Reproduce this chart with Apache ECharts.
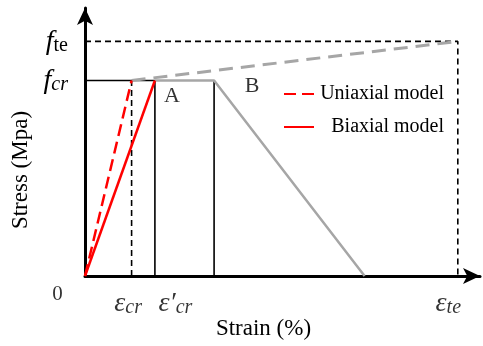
<!DOCTYPE html>
<html><head><meta charset="utf-8">
<script src="https://cdn.jsdelivr.net/npm/echarts@6/dist/echarts.min.js"></script>
<style>html,body{margin:0;padding:0;background:#fff}#c{width:483px;height:346px}</style>
</head><body><div id="c"></div>
<script>
// ---- data ----
const xTickValues = [0, 1, 1.5, 8];
const xTickLabels = ['0', 'ε_cr', 'ε′_cr', 'ε_te'];
const yTickValues = [5, 6];
const yTickLabels = ['f_cr', 'f_te'];
const uniaxialX = [0, 1];      const uniaxialY = [0, 5];
const biaxialX = [0, 1.5];     const biaxialY = [0, 5];
const softeningX = [1.5, 2.77, 6]; const softeningY = [5, 5, 0];
const hardeningX = [1, 8];     const hardeningY = [5, 6];
const crackLineX = [0, 1.5];   const crackLineY = [5, 5];
const tensionLineX = [0, 8, 8]; const tensionLineY = [6, 6, 0];
const pointLabels = ['A', 'B']; const pointX = [1.5, 2.77]; const pointY = [5, 5];

const SERIF = '"Liberation Serif", "Times New Roman", serif';
const zip = (xs, ys) => xs.map((x, i) => [x, ys[i]]);

function richLabel(txt) {
  const i = txt.indexOf('_');
  if (i < 0) return '{n|' + txt + '}';
  const main = txt.slice(0, i), sub = txt.slice(i + 1);
  const isF = main === 'f';
  const subStyle = (isF && sub === 'te') ? 'su' : 'si';
  return '{' + (isF ? 'f' : 'e') + '|' + main + '}{' + subStyle + '|' + sub + '}';
}
const rich = {
  n: { fontFamily: SERIF, fontSize: 21, color: '#000' },
  f: { fontFamily: SERIF, fontSize: 28, fontStyle: 'italic', color: '#000', lineHeight: 28 },
  e: { fontFamily: SERIF, fontSize: 28, fontStyle: 'italic', color: '#000', lineHeight: 28 },
  si: { fontFamily: SERIF, fontSize: 20, fontStyle: 'italic', color: '#000', lineHeight: 19, verticalAlign: 'bottom' },
  su: { fontFamily: SERIF, fontSize: 20, color: '#000', lineHeight: 19, verticalAlign: 'bottom' }
};

const xLabelOffsets = [[-27.5, 18], [-3.5, 28], [20.5, 28], [-9.5, 28]];
const pointLabelOffsets = [[17, 16], [38, 6]];

const chart = echarts.init(document.getElementById('c'), null, { renderer: 'canvas' });
const black = '#000';
chart.setOption({
  animation: false,
  backgroundColor: '#fff',
  grid: { left: 85, top: 8, width: 395, height: 268 },
  xAxis: {
    type: 'value', min: 0, max: 8.476,
    name: 'Strain (%)', nameLocation: 'middle', nameGap: 41,
    nameTextStyle: { fontFamily: SERIF, fontSize: 23, color: black, padding: [0, 38, 0, 0] },
    axisLine: { show: true, symbol: ['none', 'arrow'], symbolSize: [12, 17], lineStyle: { color: black, width: 3 } },
    axisTick: { show: false }, axisLabel: { show: false }, splitLine: { show: false }
  },
  yAxis: {
    type: 'value', min: 0, max: 6.854, interval: 1,
    name: 'Stress (Mpa)', nameLocation: 'middle', nameGap: 43, nameRotate: 90,
    nameTextStyle: { fontFamily: SERIF, fontSize: 23, color: black, padding: [0, 56, 0, 0] },
    axisLine: { show: true, symbol: ['none', 'arrow'], symbolSize: [12, 17], lineStyle: { color: black, width: 3 } },
    axisTick: { show: false }, splitLine: { show: false },
    axisLabel: {
      margin: 17,
      formatter: v => { const k = yTickValues.indexOf(v); return k < 0 ? '' : richLabel(yTickLabels[k]); },
      rich: rich
    }
  },
  legend: {
    data: ['Uniaxial model', 'Biaxial model'],
    orient: 'vertical', left: 278, top: 79, itemWidth: 30, itemHeight: 14, itemGap: 13,
    itemStyle: { opacity: 0 },
    formatter: '{t|{name}}',
    textStyle: { rich: { t: { width: 125, align: 'right', fontFamily: SERIF, fontSize: 20, color: black } } }
  },
  series: [
    { name: 'f_te', type: 'line', data: zip(tensionLineX, tensionLineY), symbol: 'none', silent: true,
      lineStyle: { color: black, width: 1.6, type: [6, 4] }, z: 2 },
    { name: 'f_cr', type: 'line', data: zip(crackLineX, crackLineY), symbol: 'none', silent: true,
      lineStyle: { color: black, width: 1.6 }, z: 2 },
    { name: 'ε_cr line', type: 'line', data: [[xTickValues[1], 0], [xTickValues[1], uniaxialY[1]]], symbol: 'none',
      lineStyle: { color: black, width: 1.6, type: [6, 4] }, z: 2 },
    { name: 'ε′_cr line', type: 'line', data: [[biaxialX[1], 0], [biaxialX[1], biaxialY[1]]], symbol: 'none',
      lineStyle: { color: black, width: 1.6 }, z: 2 },
    { name: 'B line', type: 'line', data: [[softeningX[1], 0], [softeningX[1], softeningY[1]]], symbol: 'none',
      lineStyle: { color: black, width: 1.6 }, z: 2 },
    { name: 'Softening', type: 'line', data: zip(softeningX, softeningY), symbol: 'none',
      lineStyle: { color: '#a6a6a6', width: 2.5 }, z: 3 },
    { name: 'Hardening', type: 'line', data: zip(hardeningX, hardeningY), symbol: 'none',
      lineStyle: { color: '#a6a6a6', width: 3, type: [14, 8] }, z: 3 },
    { name: 'Uniaxial model', type: 'line', data: zip(uniaxialX, uniaxialY), symbol: 'none',
      lineStyle: { color: '#ff0000', width: 2.5, type: [12, 6] }, itemStyle: { color: '#ff0000' }, z: 5 },
    { name: 'Biaxial model', type: 'line', data: zip(biaxialX, biaxialY), symbol: 'none',
      lineStyle: { color: '#ff0000', width: 2.5 }, itemStyle: { color: '#ff0000' }, z: 5 },
    { name: 'xTicks', type: 'scatter', symbolSize: 0, silent: true, z: 6,
      data: xTickValues.map((x, i) => ({ value: [x, 0],
        label: { show: true, position: 'inside', offset: xLabelOffsets[i], formatter: richLabel(xTickLabels[i]), rich: rich } })) },
    { name: 'points', type: 'scatter', symbolSize: 0, silent: true, z: 6,
      data: pointLabels.map((t, i) => ({ value: [pointX[i], pointY[i]],
        label: { show: true, position: 'inside', offset: pointLabelOffsets[i], formatter: t,
          fontFamily: SERIF, fontSize: 22, color: black } })) }
  ]
});
</script></body></html>
